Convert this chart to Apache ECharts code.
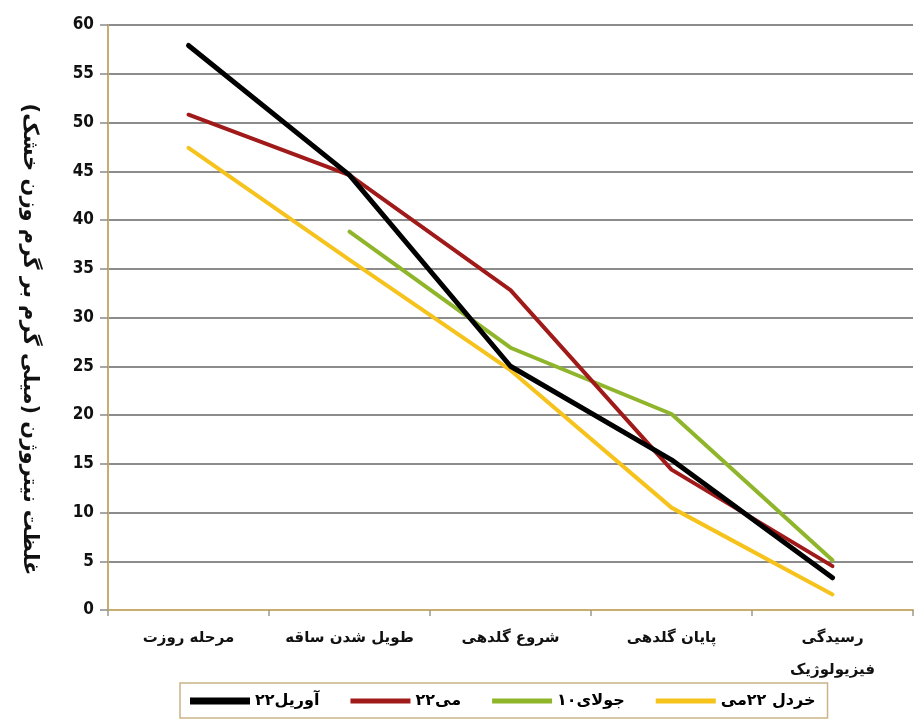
<!DOCTYPE html>
<html>
<head>
<meta charset="utf-8">
<script src="https://cdn.jsdelivr.net/npm/echarts@6/dist/echarts.min.js"></script>
<style>
  html, body { margin: 0; padding: 0; background: #fff; }
  #chart { width: 917px; height: 726px; }
</style>
</head>
<body>
<div id="chart"></div>
<script>
// Growth stages on the category axis
const stages = ['مرحله روزت', 'طویل شدن ساقه', 'شروع گلدهی', 'پایان گلدهی', 'رسیدگی\nفیزیولوژیک'];

// Nitrogen concentration (mg/g dry weight) per sowing date
const april22 = [57.9, 44.6, 25.0, 15.4, 3.3];
const may22 = [50.8, 44.6, 32.8, 14.4, 4.5];
const july10 = [null, 38.8, 26.9, 20.1, 5.1];
const mustardMay22 = [47.4, 35.9, 24.6, 10.5, 1.6];

const seriesNames = ['۲۲آوریل', '۲۲می', '۱۰جولای', 'خردل ۲۲می'];
const seriesColors = ['#000000', '#a01a1a', '#8fb52a', '#f6c21c'];
const seriesWidths = [5, 4, 4, 4];
const seriesData = [april22, may22, july10, mustardMay22];

const yTicks = { min: 0, max: 60, interval: 5 };
const fontFamily = '"DejaVu Sans", "Noto Sans", sans-serif';

// Legend swatches: thick bar for the first series, thinner bars for the rest
const thickBar = 'path://M0,0H60V7H0Z';
const thinBar = 'path://M0,0L0,0M0,1H60V6H0ZM0,7L0,7';

const chart = echarts.init(document.getElementById('chart'));

chart.setOption({
  backgroundColor: '#ffffff',
  animation: false,
  grid: { left: 108, right: 4, top: 25, bottom: 116 },
  legend: {
    top: 683,
    left: 180,
    width: 650,
    padding: [10, 12, 9, 10],
    borderColor: '#c9b485',
    borderWidth: 1.5,
    itemWidth: 60,
    itemHeight: 7,
    itemGap: 31,
    textStyle: { fontFamily, fontWeight: 'bold', fontSize: 16, color: '#000' },
    data: seriesNames.map((name, i) => ({ name, icon: i === 0 ? thickBar : thinBar }))
  },
  xAxis: {
    type: 'category',
    data: stages,
    boundaryGap: true,
    axisLine: { lineStyle: { color: '#c8ad6e', width: 2 } },
    axisTick: { show: true, length: 6, lineStyle: { color: '#9a9a8a', width: 1.5 } },
    axisLabel: {
      interval: 0,
      fontFamily, fontWeight: 'bold', fontSize: 15, color: '#111',
      margin: 12, lineHeight: 32
    }
  },
  yAxis: {
    type: 'value',
    min: yTicks.min,
    max: yTicks.max,
    interval: yTicks.interval,
    name: 'غلظت نیتروژن (میلی گرم بر گرم وزن خشک)',
    nameLocation: 'middle',
    nameRotate: -90,
    nameGap: 68,
    nameTextStyle: {
      fontFamily, fontWeight: 'bold', fontSize: 21, color: '#111',
      padding: [0, 0, 0, 44]
    },
    axisLine: { show: true, lineStyle: { color: '#c8ad6e', width: 2 } },
    axisTick: { show: true, length: 8, lineStyle: { color: '#8a8a8a', width: 1.5 } },
    axisLabel: {
      fontFamily: '"Liberation Sans Narrow", "DejaVu Sans Condensed", sans-serif',
      fontWeight: 'bold', fontSize: 17, color: '#111', margin: 14
    },
    splitLine: { lineStyle: { color: '#8c8c8c', width: 2 } }
  },
  series: seriesData.map((values, i) => ({
    name: seriesNames[i],
    type: 'line',
    data: values,
    color: seriesColors[i],
    showSymbol: false,
    symbol: 'none',
    connectNulls: false,
    lineStyle: { color: seriesColors[i], width: seriesWidths[i], cap: 'round', join: 'round' },
    z: 10 - i
  }))
});
</script>
</body>
</html>
